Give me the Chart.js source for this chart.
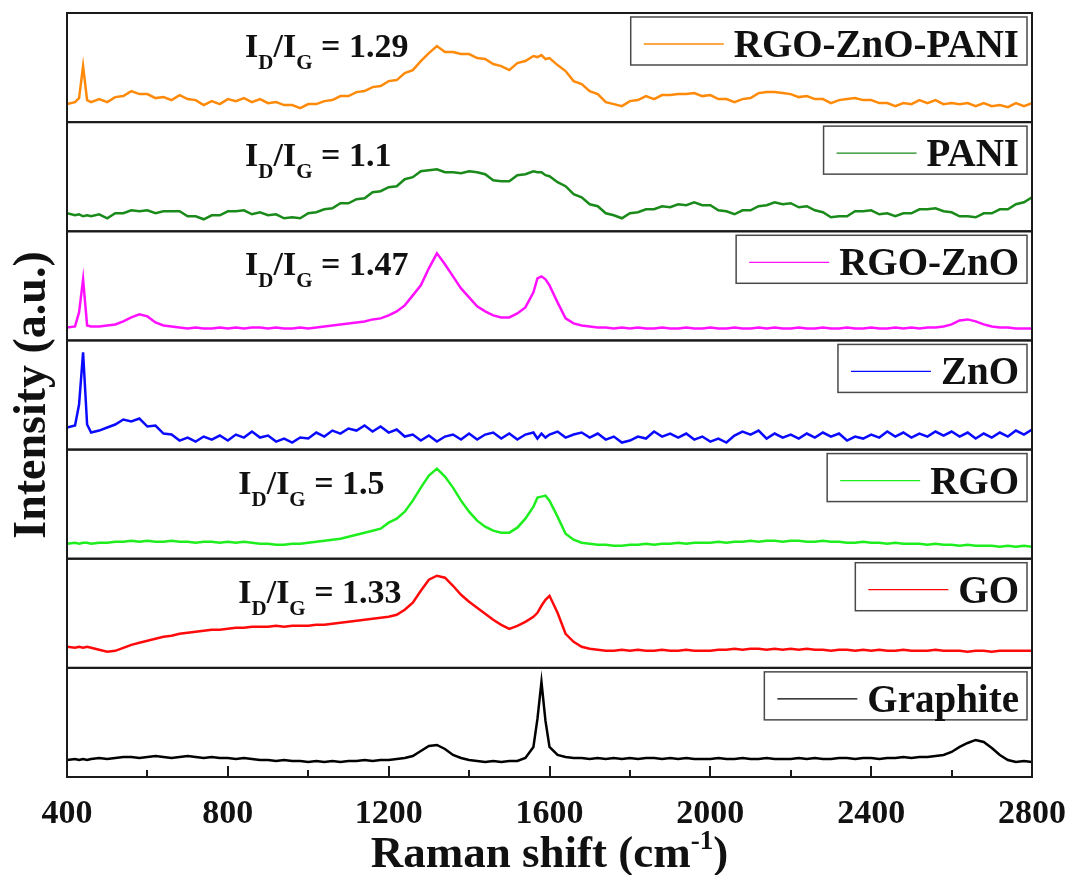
<!DOCTYPE html>
<html>
<head>
<meta charset="utf-8">
<title>Raman spectra</title>
<script src="https://cdn.jsdelivr.net/npm/chart.js@4.4.1/dist/chart.umd.min.js"></script>
<style>
  html, body { margin: 0; padding: 0; background: #fff; }
</style>
</head>
<body>
<canvas id="ramanChart" width="1070" height="875"></canvas>
<script>
// Raman shift grid (cm-1), a little finer around the sharp 440 and 1580 lines
const ramanShift = [
  400, 420, 430, 440, 450, 460, 480, 500, 520, 540, 560, 580,
  600, 620, 640, 660, 680, 700, 720, 740, 760, 780,
  800, 820, 840, 860, 880, 900, 920, 940, 960, 980,
  1000, 1020, 1040, 1060, 1080, 1100, 1120, 1140, 1160, 1180,
  1200, 1220, 1240, 1260, 1280, 1300, 1320, 1340, 1360, 1380,
  1400, 1420, 1440, 1460, 1480, 1500, 1520, 1540, 1560, 1570, 1580, 1590,
  1600, 1620, 1640, 1660, 1680, 1700, 1720, 1740, 1760, 1780,
  1800, 1820, 1840, 1860, 1880, 1900, 1920, 1940, 1960, 1980,
  2000, 2020, 2040, 2060, 2080, 2100, 2120, 2140, 2160, 2180,
  2200, 2220, 2240, 2260, 2280, 2300, 2320, 2340, 2360, 2380,
  2400, 2420, 2440, 2460, 2480, 2500, 2520, 2540, 2560, 2580,
  2600, 2620, 2640, 2660, 2680, 2700, 2720, 2740, 2760, 2780,
  2800
];

// intensities (a.u.), each spectrum in its own offset panel
const rgoZnOPani = [
  18, 20, 24, 56, 22, 20, 23, 20, 25, 26, 31, 28,
  28, 24, 25, 22, 27, 23, 22, 17, 21, 18,
  23, 21, 24, 20, 23, 19, 20, 17, 17, 14,
  18, 18, 21, 22, 26, 26, 30, 31, 35, 36,
  41, 42, 49, 52, 61, 69, 76, 70, 70, 68,
  68, 64, 63, 58, 56, 52, 59, 61, 66, 65, 67, 63,
  64, 57, 51, 41, 38, 31, 28, 20, 18, 16,
  21, 22, 26, 23, 27, 27, 28, 28, 29, 26,
  27, 23, 23, 20, 23, 24, 29, 30, 30, 29,
  28, 25, 26, 23, 23, 19, 22, 23, 24, 22,
  22, 19, 19, 16, 19, 18, 22, 19, 22, 18,
  19, 18, 19, 16, 19, 16, 17, 15, 19, 16,
  19
];
const polyaniline = [
  18, 16, 17, 15, 16, 15, 17, 13, 18, 18, 21, 20,
  21, 18, 20, 20, 20, 15, 15, 12, 16, 16,
  20, 20, 21, 17, 19, 16, 17, 13, 14, 13,
  18, 19, 22, 23, 28, 28, 32, 33, 39, 40,
  44, 45, 52, 54, 60, 61, 62, 59, 59, 58,
  60, 59, 57, 51, 50, 50, 56, 57, 60, 59, 59, 56,
  55, 49, 45, 37, 34, 27, 25, 18, 16, 13,
  18, 19, 22, 22, 25, 24, 27, 26, 29, 26,
  26, 21, 20, 17, 21, 21, 25, 26, 29, 27,
  28, 24, 25, 21, 19, 14, 15, 15, 20, 20,
  21, 17, 18, 15, 18, 18, 22, 22, 23, 20,
  19, 15, 15, 14, 18, 18, 22, 22, 27, 29,
  34
];
const rgoZnO = [
  13, 14, 28, 61, 15, 14, 14, 15, 16, 19, 23, 26,
  24, 18, 15, 14, 13, 12, 13, 12, 12, 13,
  12, 13, 12, 13, 13, 12, 13, 12, 12, 13,
  12, 13, 14, 15, 16, 17, 18, 19, 21, 22,
  25, 29, 35, 45, 55, 72, 87, 76, 64, 52,
  43, 34, 29, 25, 23, 23, 27, 33, 48, 62, 64, 61,
  55, 38, 22, 17, 15, 14, 13, 13, 12, 13,
  12, 13, 12, 12, 13, 12, 12, 13, 12, 12,
  13, 12, 12, 13, 12, 12, 13, 12, 13, 12,
  12, 13, 12, 12, 13, 12, 12, 13, 12, 12,
  13, 12, 12, 13, 12, 13, 12, 13, 13, 14,
  16, 20, 21, 19, 16, 14, 13, 13, 12, 12,
  12
];
const zincOxide = [
  22, 24, 45, 97, 25, 17, 19, 22, 25, 30, 28, 31,
  23, 24, 16, 15, 9, 12, 8, 13, 10, 14,
  9, 15, 12, 18, 12, 14, 8, 11, 7, 12,
  11, 17, 13, 19, 16, 21, 19, 24, 18, 23,
  17, 20, 13, 15, 9, 14, 8, 13, 15, 10,
  16, 10, 15, 17, 11, 16, 10, 15, 17, 11, 16, 12,
  15, 18, 12, 15, 17, 12, 16, 10, 13, 7,
  9, 13, 11, 18, 13, 16, 12, 16, 10, 13,
  8, 11, 7, 14, 18, 15, 19, 11, 16, 12,
  15, 11, 16, 12, 17, 13, 16, 9, 13, 11,
  15, 12, 18, 13, 17, 12, 16, 13, 18, 14,
  18, 13, 17, 11, 16, 12, 17, 13, 19, 15,
  20
];
const reducedGO = [
  15, 16, 15, 16, 16, 15, 16, 16, 17, 17, 18, 17,
  18, 17, 17, 18, 17, 17, 16, 17, 17, 16,
  17, 16, 17, 16, 15, 15, 14, 14, 15, 15,
  16, 17, 18, 19, 20, 22, 24, 26, 28, 30,
  36, 40, 47, 58, 71, 83, 90, 82, 71, 58,
  47, 38, 32, 28, 26, 26, 31, 40, 52, 61, 62, 63,
  58, 42, 25, 19, 16, 15, 14, 14, 13, 13,
  14, 14, 15, 14, 15, 15, 16, 15, 16, 16,
  16, 17, 16, 17, 17, 18, 17, 18, 18, 17,
  18, 18, 17, 17, 18, 17, 17, 16, 16, 17,
  16, 16, 15, 16, 15, 15, 15, 14, 15, 14,
  14, 13, 14, 13, 13, 13, 12, 13, 12, 13,
  12
];
const grapheneOxide = [
  21, 20, 21, 20, 21, 20, 18, 16, 17, 20, 23, 25,
  27, 29, 31, 32, 34, 35, 36, 37, 38, 38,
  39, 40, 40, 41, 41, 41, 42, 41, 42, 42,
  42, 43, 43, 44, 45, 46, 47, 48, 49, 50,
  51, 53, 58, 65, 77, 88, 92, 90, 82, 73,
  66, 60, 54, 48, 43, 39, 42, 46, 51, 55, 62, 68,
  72, 55, 34, 26, 21, 19, 18, 17, 17, 18,
  17, 18, 17, 17, 18, 17, 17, 18, 17, 17,
  17, 18, 18, 19, 18, 19, 19, 18, 19, 18,
  19, 18, 19, 18, 18, 17, 18, 18, 17, 18,
  17, 18, 17, 17, 18, 17, 17, 17, 18, 17,
  17, 17, 16, 17, 17, 16, 17, 17, 17, 17,
  17
];
const graphite = [
  17, 18, 17, 18, 17, 18, 19, 18, 19, 20, 20, 19,
  20, 21, 20, 19, 20, 21, 20, 19, 20, 19,
  19, 18, 19, 18, 17, 17, 16, 17, 16, 16,
  15, 16, 15, 16, 15, 16, 16, 17, 16, 17,
  17, 18, 19, 21, 26, 31, 32, 28, 22, 19,
  17, 16, 15, 16, 15, 16, 16, 19, 30, 58, 95, 56,
  30, 22, 20, 19, 19, 18, 19, 18, 19, 18,
  19, 18, 19, 19, 18, 19, 18, 19, 18, 18,
  18, 19, 18, 18, 19, 18, 18, 19, 18, 18,
  18, 19, 18, 19, 18, 18, 19, 19, 18, 19,
  19, 18, 19, 19, 20, 19, 20, 20, 21, 22,
  25, 30, 34, 37, 35, 29, 22, 17, 15, 16,
  15
];

// panels listed top to bottom
const seriesLabels = ['RGO-ZnO-PANI', 'PANI', 'RGO-ZnO', 'ZnO', 'RGO', 'GO', 'Graphite'];
const seriesValues = [rgoZnOPani, polyaniline, rgoZnO, zincOxide, reducedGO, grapheneOxide, graphite];
const idIgRatios = ['1.29', '1.1', '1.47', '', '1.5', '1.33', ''];
const xTicks = [400, 800, 1200, 1600, 2000, 2400, 2800];

const lineColors = ['#ff8a0a', '#1a8a1a', '#ff10ff', '#0a0aff', '#1eee1e', '#ff0a0a', '#000000'];
const SERIF = '"Liberation Serif", "Times New Roman", serif';

const datasets = seriesLabels.map((label, i) => ({
  label: label,
  data: seriesValues[i].map((v, k) => ({ x: ramanShift[k], y: v })),
  yAxisID: 'y' + i,
  borderColor: lineColors[i],
  borderWidth: 2.5,
  pointRadius: 0,
  tension: 0
}));

const scales = {
  x: {
    type: 'linear',
    position: 'bottom',
    min: xTicks[0],
    max: xTicks[xTicks.length - 1],
    afterBuildTicks: (s) => { s.ticks = xTicks.map(v => ({ value: v })); },
    ticks: {
      color: '#111',
      padding: 9,
      maxRotation: 0,
      autoSkip: false,
      font: { family: SERIF, size: 34, weight: 'bold' },
      callback: (v) => String(v)
    },
    grid: { display: false },
    border: { display: false },
    afterFit: (s) => {
      s.height = 98;
      // end labels may hang past the frame; the page margins cover them
      s.paddingLeft = 0;
      s.paddingRight = 0;
    }
  }
};
// stacked left axes are placed bottom-up, so add the lowest panel first
for (let i = seriesLabels.length - 1; i >= 0; i--) {
  scales['y' + i] = {
    type: 'linear',
    position: 'left',
    stack: 'panels',
    stackWeight: 1,
    min: 0,
    max: 109,
    ticks: { display: false },
    grid: { display: false },
    border: { display: false },
    afterFit: (s) => { s.width = 0; }
  };
}

function drawRatio(ctx, x, y, value) {
  const big = 'bold 34px ' + SERIF;
  const small = 'bold 21px ' + SERIF;
  const parts = [['I', big, 0], ['D', small, 12], ['/I', big, 0], ['G', small, 12], [' = ' + value, big, 0]];
  parts.forEach(([t, f, dy]) => {
    ctx.font = f;
    ctx.fillText(t, x, y + dy);
    x += ctx.measureText(t).width;
  });
}

const panelDecor = {
  id: 'panelDecor',
  afterDraw(chart) {
    const ctx = chart.ctx;
    const area = chart.chartArea;
    const xs = chart.scales.x;
    ctx.save();

    // panel frames
    ctx.strokeStyle = '#1a1a1a';
    ctx.lineWidth = 2;
    seriesLabels.forEach((_, i) => {
      const s = chart.scales['y' + i];
      ctx.strokeRect(area.left, s.top, area.right - area.left, s.bottom - s.top);
    });

    // inward ticks on the shared x axis
    for (let v = xs.min; v <= xs.max; v += 200) {
      const px = Math.round(xs.getPixelForValue(v));
      const len = (v - xs.min) % 400 === 0 ? 11 : 7;
      ctx.beginPath();
      ctx.moveTo(px, area.bottom);
      ctx.lineTo(px, area.bottom - len);
      ctx.stroke();
    }

    // legend box and I_D/I_G ratio in each panel
    ctx.textBaseline = 'alphabetic';
    chart.data.datasets.forEach((ds, i) => {
      const s = chart.scales[ds.yAxisID];
      ctx.font = 'bold 39px ' + SERIF;
      const tw = ctx.measureText(ds.label).width;
      const boxRight = area.right - 5;
      const textLeft = boxRight - 8 - tw;
      const lineRight = textLeft - 10;
      const lineLeft = lineRight - 80;
      const boxLeft = lineLeft - 13;
      const boxTop = s.top + 4;
      const boxH = 48;
      ctx.fillStyle = '#fff';
      ctx.fillRect(boxLeft, boxTop, boxRight - boxLeft, boxH);
      ctx.strokeStyle = '#4a4a4a';
      ctx.lineWidth = 1.5;
      ctx.strokeRect(boxLeft, boxTop, boxRight - boxLeft, boxH);
      ctx.strokeStyle = ds.borderColor;
      ctx.lineWidth = 1.3;
      ctx.beginPath();
      ctx.moveTo(lineLeft, boxTop + 27);
      ctx.lineTo(lineRight, boxTop + 27);
      ctx.stroke();
      ctx.fillStyle = '#111';
      ctx.textAlign = 'left';
      ctx.fillText(ds.label, textLeft, boxTop + 40);

      if (idIgRatios[i]) {
        const at = i < 3 ? 843 : 826;
        drawRatio(ctx, xs.getPixelForValue(at), s.top + 44, idIgRatios[i]);
      }
    });

    // y axis title
    ctx.fillStyle = '#111';
    ctx.save();
    ctx.translate(33, (area.top + area.bottom) / 2);
    ctx.rotate(-Math.PI / 2);
    ctx.font = 'bold 46px ' + SERIF;
    ctx.textAlign = 'center';
    ctx.textBaseline = 'middle';
    ctx.fillText('Intensity (a.u.)', 0, 0);
    ctx.restore();

    // x axis title with superscript unit
    const main = 'bold 45px ' + SERIF;
    const sup = 'bold 27px ' + SERIF;
    ctx.textAlign = 'left';
    ctx.font = main;
    const w1 = ctx.measureText('Raman shift (cm').width;
    const w3 = ctx.measureText(')').width;
    ctx.font = sup;
    const w2 = ctx.measureText('-1').width;
    let tx = (area.left + area.right) / 2 - (w1 + w2 + w3) / 2;
    const ty = 867;
    ctx.font = main;
    ctx.fillText('Raman shift (cm', tx, ty);
    tx += w1;
    ctx.font = sup;
    ctx.fillText('-1', tx, ty - 18);
    tx += w2;
    ctx.font = main;
    ctx.fillText(')', tx, ty);

    ctx.restore();
  }
};

new Chart(document.getElementById('ramanChart'), {
  type: 'line',
  data: { datasets: datasets },
  options: {
    responsive: false,
    animation: false,
    layout: { padding: { left: 67, right: 38, top: 13, bottom: 0 } },
    plugins: { legend: { display: false }, tooltip: { enabled: false } },
    scales: scales
  },
  plugins: [panelDecor]
});
</script>
</body>
</html>
